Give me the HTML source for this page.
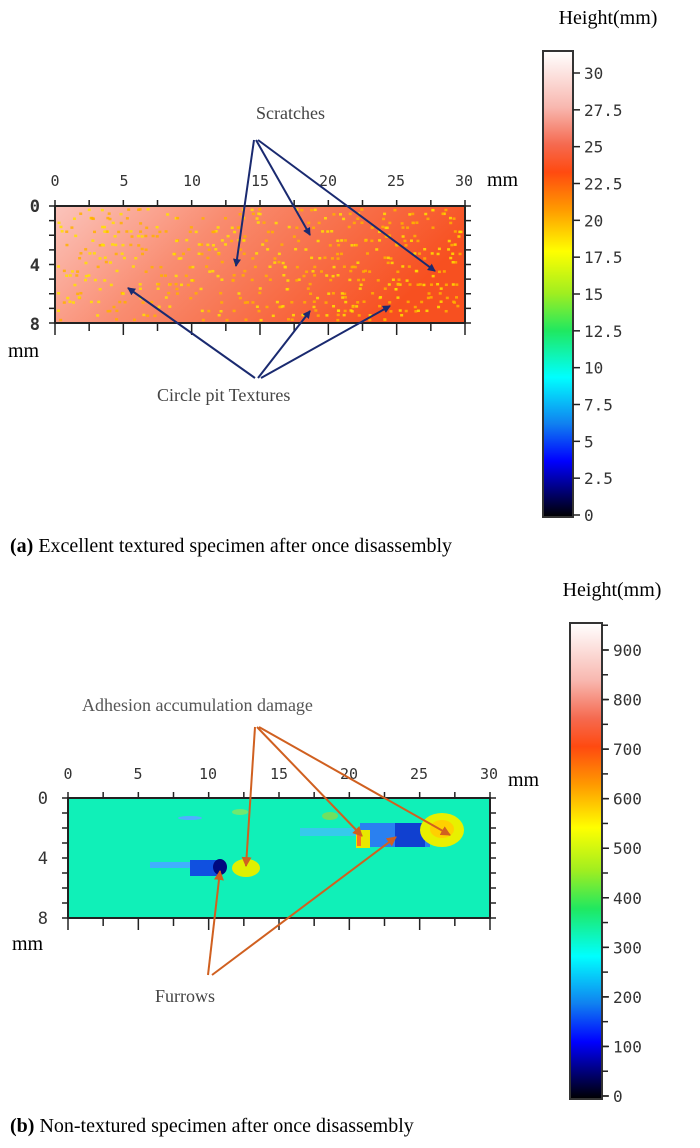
<!DOCTYPE html>
<html><head><meta charset="utf-8"><style>
html,body{margin:0;padding:0;background:#fff;width:700px;height:1148px;overflow:hidden}
svg{display:block}
.s{font-family:"Liberation Serif",serif}
.m{font-family:"DejaVu Sans Mono","Liberation Mono",monospace;fill:#333}
</style></head><body>
<svg id="sv" width="700" height="1148" viewBox="0 0 700 1148" xmlns="http://www.w3.org/2000/svg">
<defs>
<linearGradient id="ga" x1="0" y1="0" x2="0" y2="1">
<stop offset="0" stop-color="#fff"/><stop offset="0.12" stop-color="#f8b8b0"/><stop offset="0.2" stop-color="#f56a50"/><stop offset="0.26" stop-color="#ff4a10"/><stop offset="0.34" stop-color="#ff9a00"/><stop offset="0.43" stop-color="#ffff00"/><stop offset="0.52" stop-color="#a0ee20"/><stop offset="0.6" stop-color="#20e860"/><stop offset="0.7" stop-color="#00ffff"/><stop offset="0.8" stop-color="#1080f0"/><stop offset="0.88" stop-color="#0000ff"/><stop offset="1" stop-color="#000"/>
</linearGradient>
<linearGradient id="pa" x1="0" y1="0" x2="1" y2="0.3">
<stop offset="0" stop-color="#fbc4bc"/><stop offset="0.4" stop-color="#f98c70"/><stop offset="1" stop-color="#f75020"/>
</linearGradient>
<marker id="ab" markerWidth="8" markerHeight="8" refX="7" refY="4" orient="auto" markerUnits="userSpaceOnUse"><path d="M0,0 L8,4 L0,8z" fill="#1a2a70"/></marker>
<marker id="ao" markerWidth="10" markerHeight="10" refX="9" refY="5" orient="auto" markerUnits="userSpaceOnUse"><path d="M0,0 L10,5 L0,10z" fill="#d06020"/></marker>
</defs>

<!-- Panel a -->
<rect x="55" y="206" width="410" height="117" fill="url(#pa)"/>
<g id="dots"></g>
<rect x="55" y="206" width="410" height="117" fill="none" stroke="#222" stroke-width="2"/>
<g id="ticksA" stroke="#222" stroke-width="1.5"></g>
<g class="m" font-size="15" text-anchor="middle">
<text x="55" y="186">0</text><text x="124" y="186">5</text><text x="192" y="186">10</text><text x="260" y="186">15</text><text x="328" y="186">20</text><text x="396" y="186">25</text><text x="464" y="186">30</text>
</g>
<g class="m" font-size="17" font-weight="bold" text-anchor="end"><text x="40" y="212">0</text><text x="40" y="271">4</text><text x="40" y="330">8</text></g>
<text class="s" x="487" y="186" font-size="20">mm</text>
<text class="s" x="8" y="357" font-size="20">mm</text>
<text class="s" x="256" y="119" font-size="18" fill="#444">Scratches</text>
<text class="s" x="157" y="401" font-size="18" fill="#444">Circle pit Textures</text>
<g stroke="#1a2a70" stroke-width="2" fill="none" marker-end="url(#ab)">
<line x1="254" y1="140" x2="236" y2="266"/><line x1="256" y1="140" x2="310" y2="235"/><line x1="258" y1="140" x2="435" y2="271"/>
<line x1="255" y1="378" x2="128" y2="288"/><line x1="258" y1="378" x2="310" y2="311"/><line x1="261" y1="378" x2="390" y2="306"/>
</g>
<!-- colorbar a -->
<text class="s" x="608" y="24" font-size="20" text-anchor="middle">Height(mm)</text>
<rect x="543" y="51" width="30" height="466" fill="url(#ga)" stroke="#333" stroke-width="2"/>
<g id="cbA"></g>
<text class="s" x="10" y="552" font-size="20"><tspan font-weight="bold">(a)</tspan> Excellent textured specimen after once disassembly</text>

<!-- Panel b -->
<rect x="68" y="798" width="422" height="120" fill="#10f0b8"/>
<g>
<ellipse cx="190" cy="818" rx="12" ry="2" fill="#50b0ff"/>
<ellipse cx="240" cy="812" rx="8" ry="3" fill="#70e870"/>
<ellipse cx="330" cy="816" rx="8" ry="4" fill="#70e060"/>
<rect x="360" y="823" width="70" height="24" fill="#2a80f0"/>
<rect x="300" y="828" width="60" height="8" fill="#40c0f8" opacity="0.8"/>
<rect x="395" y="823" width="30" height="24" fill="#1040d0"/>
<ellipse cx="442" cy="830" rx="22" ry="17" fill="#e8f000"/>
<ellipse cx="442" cy="829" rx="12" ry="9" fill="#ffd000"/>
<rect x="356" y="830" width="14" height="18" fill="#e8e800"/>
<rect x="357" y="834" width="4" height="12" fill="#ff7020"/>
<rect x="150" y="862" width="40" height="6" fill="#40b0ff"/>
<rect x="190" y="860" width="28" height="16" fill="#1050e0"/>
<ellipse cx="220" cy="867" rx="7" ry="8" fill="#000880"/>
<ellipse cx="246" cy="868" rx="14" ry="9" fill="#e0f000"/>
</g>
<rect x="68" y="798" width="422" height="120" fill="none" stroke="#222" stroke-width="2"/>
<g id="ticksB" stroke="#222" stroke-width="1.5"></g>
<g class="m" font-size="15" text-anchor="middle">
<text x="68" y="779">0</text><text x="138" y="779">5</text><text x="208" y="779">10</text><text x="279" y="779">15</text><text x="349" y="779">20</text><text x="419" y="779">25</text><text x="489" y="779">30</text>
</g>
<g class="m" font-size="17" text-anchor="end"><text x="48" y="804">0</text><text x="48" y="864">4</text><text x="48" y="924">8</text></g>
<text class="s" x="508" y="786" font-size="20">mm</text>
<text class="s" x="12" y="950" font-size="20">mm</text>
<text class="s" x="82" y="711" font-size="18" fill="#555">Adhesion accumulation damage</text>
<text class="s" x="155" y="1002" font-size="18" fill="#444">Furrows</text>
<g stroke="#d06020" stroke-width="2" fill="none" marker-end="url(#ao)">
<line x1="255" y1="727" x2="246" y2="866"/><line x1="257" y1="727" x2="362" y2="836"/><line x1="259" y1="727" x2="450" y2="835"/>
<line x1="208" y1="975" x2="220" y2="871"/><line x1="212" y1="975" x2="396" y2="837"/>
</g>
<text class="s" x="612" y="596" font-size="20" text-anchor="middle">Height(mm)</text>
<rect x="570" y="623" width="32" height="476" fill="url(#ga)" stroke="#333" stroke-width="2"/>
<g id="cbB"></g>
<text class="s" x="10" y="1132" font-size="20"><tspan font-weight="bold">(b)</tspan> Non-textured specimen after once disassembly</text>
</svg>
<script>
var NS="http://www.w3.org/2000/svg";
function el(p,t,a,txt){var e=document.createElementNS(NS,t);for(var k in a)e.setAttribute(k,a[k]);if(txt!=null)e.textContent=txt;p.appendChild(e);return e;}
var s=7;function r(){s=(s*16807)%2147483647;return s/2147483647;}
var d=document.getElementById("dots");
for(var i=0;i<520;i++){var x=57+r()*404,y=208+Math.floor(r()*26)*4.4+r();el(d,"rect",{x:x,y:y,width:3,height:2.5,fill:r()<0.5?"#ffe000":"#ffb000",opacity:0.85});}
function ticks(id,x0,x1,y0,y1,nx){var g=document.getElementById(id);
for(var i=0;i<=nx;i++){var x=x0+(x1-x0)*i/nx;el(g,"line",{x1:x,y1:y0,x2:x,y2:y0-6});el(g,"line",{x1:x,y1:y1,x2:x,y2:y1+ (i%2==0?12:8)});}
for(var j=0;j<=8;j++){var y=y0+(y1-y0)*j/8;el(g,"line",{x1:x0,y1:y,x2:x0-6,y2:y});el(g,"line",{x1:x1,y1:y,x2:x1+6,y2:y});}}
ticks("ticksA",55,465,206,323,12);ticks("ticksB",68,490,798,918,12);
function cb(id,x,ytop,ybot,labels){var g=document.getElementById(id);var n=labels.length-1;
for(var i=0;i<=n;i++){var y=ytop+(ybot-ytop)*i/n;el(g,"line",{x1:x,y1:y,x2:x+7,y2:y,stroke:"#222","stroke-width":1.5});
el(g,"text",{x:x+11,y:y+6,"font-size":16,"class":"m"},labels[i]);}}
cb("cbA",573,73,515,["30","27.5","25","22.5","20","17.5","15","12.5","10","7.5","5","2.5","0"]);
var g=document.getElementById("cbB");
for(var i=-1;i<=18;i++){var y=650+(1096-650)*i/18;if(y<624||y>1098)continue;el(g,"line",{x1:602,y1:y,x2:608,y2:y,stroke:"#222","stroke-width":1.5});}
cb("cbB",602,650,1096,["900","800","700","600","500","400","300","200","100","0"]);
</script>
</body></html>
